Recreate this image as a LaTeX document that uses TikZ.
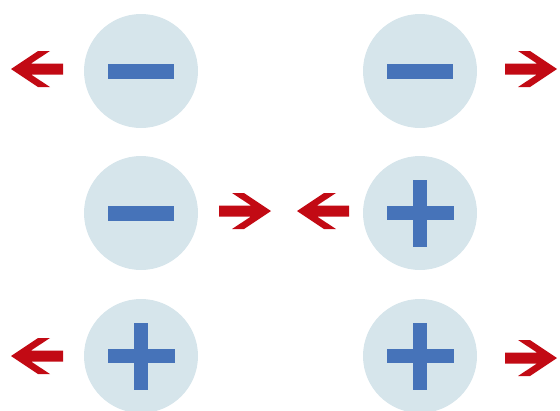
\documentclass[tikz,border=0pt]{standalone}
\begin{document}
\begin{tikzpicture}[x=1pt,y=-1pt,
  ball/.style={circle,fill=ballfill,draw=none,minimum size=114pt,inner sep=0pt},
  signbar/.style={fill=signblue,draw=none},
  arrowfill/.style={fill=arrowred,draw=none},
  pics/larrow/.style={code={
    \fill[arrowfill] (0,0) -- (27,-18) -- (39,-18) -- (20,-5.5) -- (52,-5.5) -- (52,5.5) -- (20,5.5) -- (39,18) -- (27,18) -- cycle;}},
  pics/minussign/.style={code={
    \fill[signbar] (-33,-7.5) rectangle (33,7.5);}},
  pics/plussign/.style={code={
    \fill[signbar] (-33.5,-7) rectangle (33.5,7);
    \fill[signbar] (-7,-33.5) rectangle (7,33.5);}}
]
\definecolor{ballfill}{HTML}{D6E5EB}
\definecolor{signblue}{HTML}{4673B9}
\definecolor{arrowred}{HTML}{C20A14}
\useasboundingbox (0,0) rectangle (560,410);
% balls
\node[ball] (tl) at (141,71) {};
\node[ball] (tr) at (420,71) {};
\node[ball] (ml) at (141,213) {};
\node[ball] (mr) at (420,213) {};
\node[ball] (bl) at (141,356) {};
\node[ball] (br) at (420,356) {};
% signs
\pic at (tl) {minussign};
\pic at (tr) {minussign};
\pic at (ml) {minussign};
\pic at (mr) {plussign};
\pic at (bl) {plussign};
\pic at (br) {plussign};
% arrows
\pic at (11,69) {larrow};
\pic[xscale=-1] at (557,69) {larrow};
\pic[xscale=-1] at (271,211) {larrow};
\pic at (297,211) {larrow};
\pic at (11,356) {larrow};
\pic[xscale=-1] at (557,358) {larrow};
\end{tikzpicture}
\end{document}
